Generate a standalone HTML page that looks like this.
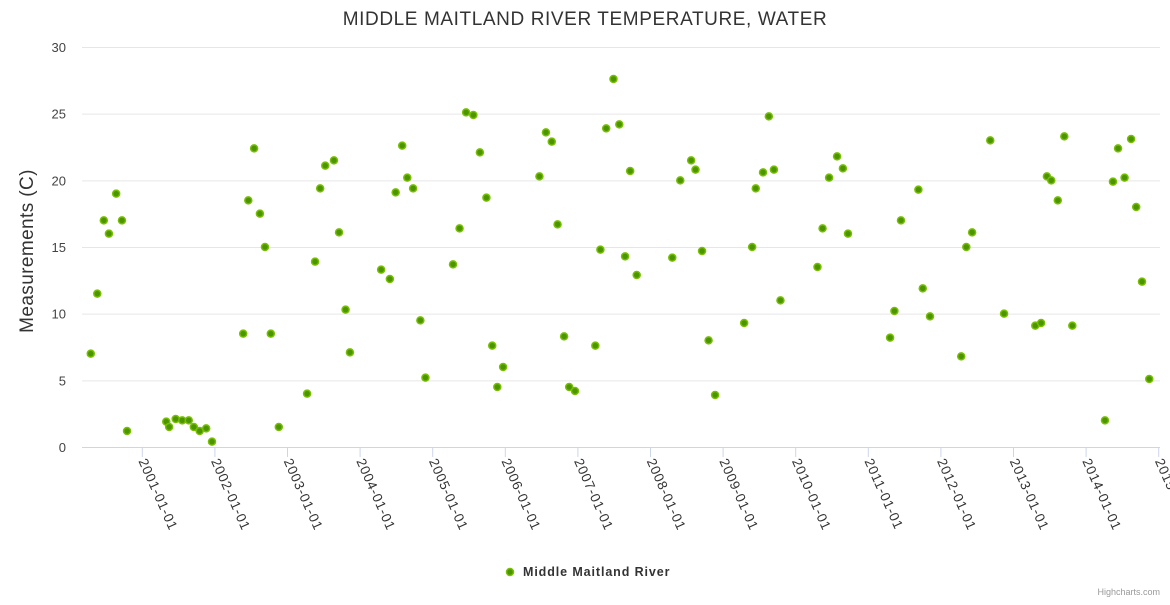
<!DOCTYPE html>
<html><head><meta charset="utf-8"><style>
html,body{margin:0;padding:0;background:#fff;}
svg text{font-family:"Liberation Sans","DejaVu Sans",sans-serif;}
</style></head><body>
<svg id="chart" width="1170" height="600" xmlns="http://www.w3.org/2000/svg">
<text x="585" y="25" text-anchor="middle" font-size="19" letter-spacing="0.6" fill="#333">MIDDLE MAITLAND RIVER TEMPERATURE, WATER</text>
<text transform="translate(33,251) rotate(-90)" text-anchor="middle" font-size="19" letter-spacing="0.4" fill="#333">Measurements (C)</text>
<g id="grid"></g><g id="xaxis"></g><g id="points"></g>
<g>
<circle cx="510" cy="572" r="3.5" fill="#4c9400" stroke="#76c000" stroke-width="1.5"/>
<text x="523" y="576" font-size="12.5" font-weight="bold" letter-spacing="0.9" fill="#333">Middle Maitland River</text>
</g>
<text x="1160" y="595" text-anchor="end" font-size="9" fill="#999">Highcharts.com</text>
</svg>
<script>
const dates=[2000.29,2000.38,2000.47,2000.54,2000.64,2000.72,2000.79,2001.33,2001.37,2001.46,2001.55,2001.64,2001.71,2001.79,2001.88,2001.96,2002.39,2002.46,2002.54,2002.62,2002.69,2002.77,2002.88,2003.27,2003.38,2003.45,2003.52,2003.64,2003.71,2003.80,2003.86,2004.29,2004.41,2004.49,2004.58,2004.65,2004.73,2004.83,2004.90,2005.28,2005.37,2005.46,2005.56,2005.65,2005.74,2005.82,2005.89,2005.97,2006.47,2006.56,2006.64,2006.72,2006.81,2006.88,2006.96,2007.24,2007.31,2007.39,2007.49,2007.57,2007.65,2007.72,2007.81,2008.30,2008.41,2008.56,2008.62,2008.71,2008.80,2008.89,2009.29,2009.40,2009.45,2009.55,2009.63,2009.70,2009.79,2010.30,2010.37,2010.46,2010.57,2010.65,2010.72,2011.30,2011.36,2011.45,2011.69,2011.75,2011.85,2012.28,2012.35,2012.43,2012.68,2012.87,2013.30,2013.38,2013.46,2013.52,2013.61,2013.70,2013.81,2014.26,2014.37,2014.44,2014.53,2014.62,2014.69,2014.77,2014.87];
const temps=[7.0,11.5,17,16,19,17,1.2,1.9,1.5,2.1,2.0,2.0,1.5,1.2,1.4,0.4,8.5,18.5,22.4,17.5,15,8.5,1.5,4,13.9,19.4,21.1,21.5,16.1,10.3,7.1,13.3,12.6,19.1,22.6,20.2,19.4,9.5,5.2,13.7,16.4,25.1,24.9,22.1,18.7,7.6,4.5,6,20.3,23.6,22.9,16.7,8.3,4.5,4.2,7.6,14.8,23.9,27.6,24.2,14.3,20.7,12.9,14.2,20,21.5,20.8,14.7,8,3.9,9.3,15,19.4,20.6,24.8,20.8,11,13.5,16.4,20.2,21.8,20.9,16,8.2,10.2,17,19.3,11.9,9.8,6.8,15,16.1,23,10,9.1,9.3,20.3,20,18.5,23.3,9.1,2,19.9,22.4,20.2,23.1,18,12.4,5.1];
const yTicks=[0,5,10,15,20,25,30];
const xTicks=[2001,2002,2003,2004,2005,2006,2007,2008,2009,2010,2011,2012,2013,2014,2015];
const NS='http://www.w3.org/2000/svg';
const X=v=>142.3+(v-2001)*72.6;
const Y=v=>447-v*(400/30);
function mk(t,a,p){const e=document.createElementNS(NS,t);for(const k in a)e.setAttribute(k,a[k]);p.appendChild(e);return e;}
const grid=document.getElementById('grid'),xa=document.getElementById('xaxis'),pts=document.getElementById('points');
yTicks.forEach(t=>{
 if(t>0){const l=mk('line',{x1:82,x2:1160,y1:Y(t)+0.5,y2:Y(t)+0.5,stroke:'#e6e6e6'},grid);
 
 }
 const tx=mk('text',{x:66,y:Y(t)+5,'text-anchor':'end','font-size':'13',fill:'#444'},grid);tx.textContent=t;
 
 
});
const ax=mk('line',{x1:82,x2:1160,y1:447.5,y2:447.5,stroke:'#ccd6eb'},xa);


xTicks.forEach(t=>{
 const x=X(t);
 mk('line',{x1:x,x2:x,y1:447,y2:457,stroke:'#ccd6eb'},xa);
 const tx=mk('text',{transform:`translate(${x-4},${461}) rotate(66)`,'font-size':'13.5','letter-spacing':'0.8',fill:'#333'},xa);
 tx.textContent=t+'-01-01';
 
 
});
dates.forEach((d,i)=>{
 const c=mk('circle',{cx:X(d),cy:Y(temps[i]),r:3.5,fill:'#4c9400',stroke:'#76c000','stroke-width':1.5},pts);
 
 
});
</script>
</body></html>
